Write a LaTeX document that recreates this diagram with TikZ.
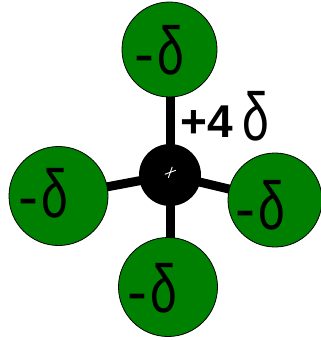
\documentclass[tikz,border=0pt]{standalone}
\usepackage{fontspec}
\setmainfont{Liberation Sans}
\usetikzlibrary{backgrounds}
\definecolor{chargegreen}{RGB}{0,128,0}
\newcommand{\thindelta}{\scalebox{0.8}[1.13]{δ}}
\tikzset{
  charge/.style={circle, draw=black, line width=0.8pt, fill=chargegreen, minimum size=#1, inner sep=0pt},
  corecircle/.style={circle, fill=black, minimum size=#1, inner sep=0pt},
  arm/.style={line width=9pt},
  crossline/.style={draw=white, line width=0.9pt},
  minuslabel/.style={anchor=base west, inner sep=0pt, font=\fontsize{60}{60}\selectfont},
  pluslabel/.style={anchor=base west, inner sep=0pt, font=\bfseries\fontsize{46}{46}\selectfont},
}
\begin{document}
\begin{tikzpicture}[x=1pt,y=-1pt]
\useasboundingbox (0,0) rectangle (321,340);
\node[charge=95pt] (top) at (169.5,49.5) {};
\node[charge=99pt] (left) at (58.5,196) {};
\node[charge=94pt] (right) at (275,200) {};
\node[charge=99pt] (bottom) at (168,287) {};
\node[corecircle=62pt] (core) at (170,175) {};
\begin{pgfonlayer}{background}
  \draw[arm] (core.center) -- (core.center |- top.center);
  \draw[arm] (core.center) -- (core.center |- bottom.center);
  \draw[arm] (core.center) -- (left.center);
  \draw[arm] (core.center) -- (right.center);
\end{pgfonlayer}
\coordinate (cross) at (170.3,172.3);
\draw[crossline] ([shift={(-5.5,2)}]cross) -- ([shift={(5.5,-2)}]cross);
\draw[crossline] ([shift={(2,-5.5)}]cross) -- ([shift={(-2,5.5)}]cross);
\node[minuslabel] (ltop) at (134,74) {-\kern3pt\thindelta};
\node[minuslabel] (lleft) at (18,217) {-\kern3pt\thindelta};
\node[minuslabel] (lright) at (235,229) {-\kern3pt\thindelta};
\node[minuslabel] (lbottom) at (127,312) {-\kern3pt\thindelta};
\node[pluslabel] (lplus) at (180,137) {+4};
\node[minuslabel] (ldelta) at (242,140) {\thindelta};
\end{tikzpicture}
\end{document}
